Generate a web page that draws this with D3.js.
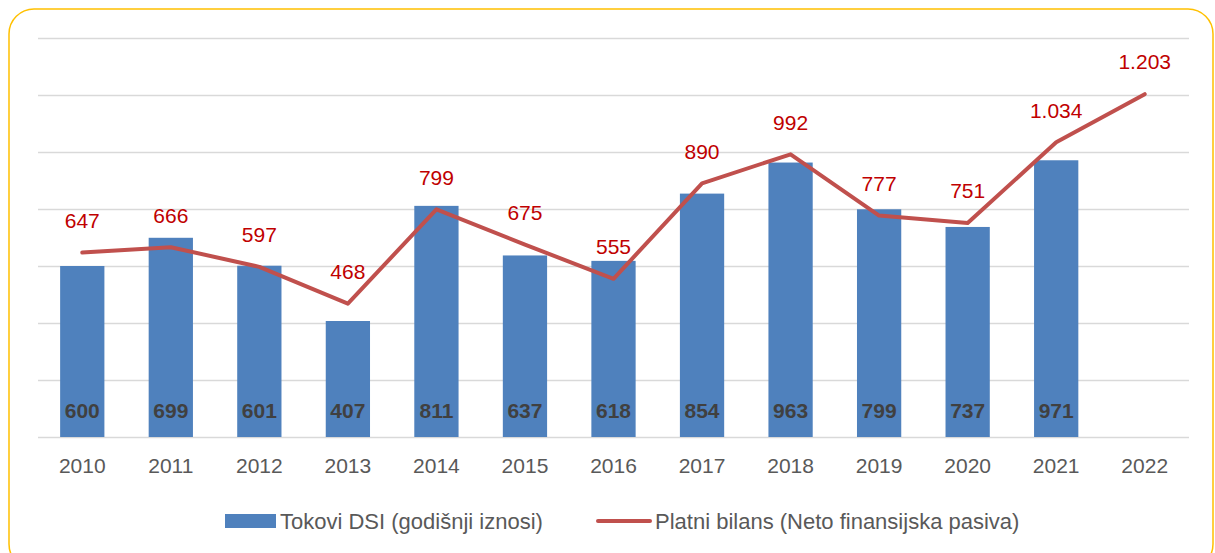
<!DOCTYPE html>
<html>
<head>
<meta charset="utf-8">
<script src="https://cdn.jsdelivr.net/npm/d3@7"></script>
<style>
  html, body { margin: 0; padding: 0; background: #fff; }
  svg text { font-family: "Liberation Sans", Arial, sans-serif; }
</style>
</head>
<body>
<svg id="chart" width="1215" height="553"></svg>
<script>
// years on the x axis
const years = ["2010", "2011", "2012", "2013", "2014", "2015", "2016", "2017", "2018", "2019", "2020", "2021", "2022"];
// Tokovi DSI (bars), no value for 2022
const dsiFlows = [600, 699, 601, 407, 811, 637, 618, 854, 963, 799, 737, 971];
// Platni bilans (line)
const netLiabilities = [647, 666, 597, 468, 799, 675, 555, 890, 992, 777, 751, 1034, 1203];
const yTicks = [0, 200, 400, 600, 800, 1000, 1200, 1400];

const seriesNames = ["Tokovi DSI (godišnji iznosi)", "Platni bilans (Neto finansijska pasiva)"];

const svg = d3.select("#chart");

// rounded frame around the chart
svg.append("rect")
   .attr("x", 9).attr("y", 9)
   .attr("width", 1204).attr("height", 560)
   .attr("rx", 25).attr("ry", 25)
   .attr("fill", "none")
   .attr("stroke", "#FFC000")
   .attr("stroke-width", 1.5);

const x = d3.scaleBand()
            .domain(years)
            .range([38, 1189])
            .paddingInner(0.5)
            .paddingOuter(0.25);

const y = d3.scaleLinear()
            .domain([0, 1400])
            .range([437, 38]);

// gridlines, no tick labels
const grid = svg.append("g")
                .attr("transform", "translate(38,0)")
                .call(d3.axisLeft(y).tickValues(yTicks).tickSize(-1151).tickFormat(""));
grid.select(".domain").remove();
grid.selectAll("line").attr("stroke", "#d9d9d9").attr("stroke-width", 1.3);

// x labels
svg.append("g")
   .selectAll("text")
   .data(years)
   .join("text")
   .attr("x", d => x(d) + x.bandwidth() / 2)
   .attr("y", 466)
   .attr("dy", "0.35em")
   .attr("text-anchor", "middle")
   .attr("font-size", 21)
   .attr("fill", "#595959")
   .text(d => d);

// bars
const barData = dsiFlows.map((v, i) => ({ year: years[i], value: v }));
svg.append("g")
   .selectAll("rect")
   .data(barData)
   .join("rect")
   .attr("x", d => x(d.year))
   .attr("y", d => y(d.value))
   .attr("width", x.bandwidth())
   .attr("height", d => y(0) - y(d.value))
   .attr("fill", "#4F81BD");

svg.append("g")
   .selectAll("text")
   .data(barData)
   .join("text")
   .attr("x", d => x(d.year) + x.bandwidth() / 2)
   .attr("y", 411)
   .attr("dy", "0.35em")
   .attr("text-anchor", "middle")
   .attr("font-size", 21)
   .attr("font-weight", "bold")
   .attr("fill", "#404040")
   .text(d => d.value);

// line
const lineData = netLiabilities.map((v, i) => ({ year: years[i], value: v }));
const line = d3.line()
               .x(d => x(d.year) + x.bandwidth() / 2)
               .y(d => y(d.value));

svg.append("path")
   .datum(lineData)
   .attr("d", line)
   .attr("fill", "none")
   .attr("stroke", "#C0504D")
   .attr("stroke-width", 4)
   .attr("stroke-linejoin", "round")
   .attr("stroke-linecap", "round");

const fmt = v => v >= 1000 ? d3.format(",")(v).replace(",", ".") : String(v);

svg.append("g")
   .selectAll("text")
   .data(lineData)
   .join("text")
   .attr("x", d => x(d.year) + x.bandwidth() / 2)
   .attr("y", d => y(d.value) - 32)
   .attr("dy", "0.35em")
   .attr("text-anchor", "middle")
   .attr("font-size", 21)
   .attr("fill", "#C00000")
   .text(d => fmt(d.value));

// legend
const legend = svg.append("g");
legend.append("rect")
      .attr("x", 225).attr("y", 514)
      .attr("width", 51).attr("height", 14)
      .attr("fill", "#4F81BD");
legend.append("text")
      .attr("x", 280).attr("y", 521).attr("dy", "0.35em")
      .attr("font-size", 22)
      .attr("fill", "#595959")
      .text(seriesNames[0]);
legend.append("line")
      .attr("x1", 598).attr("x2", 650)
      .attr("y1", 521).attr("y2", 521)
      .attr("stroke", "#C0504D")
      .attr("stroke-width", 4)
      .attr("stroke-linecap", "round");
legend.append("text")
      .attr("x", 655).attr("y", 521).attr("dy", "0.35em")
      .attr("font-size", 22)
      .attr("fill", "#595959")
      .text(seriesNames[1]);
</script>
</body>
</html>
